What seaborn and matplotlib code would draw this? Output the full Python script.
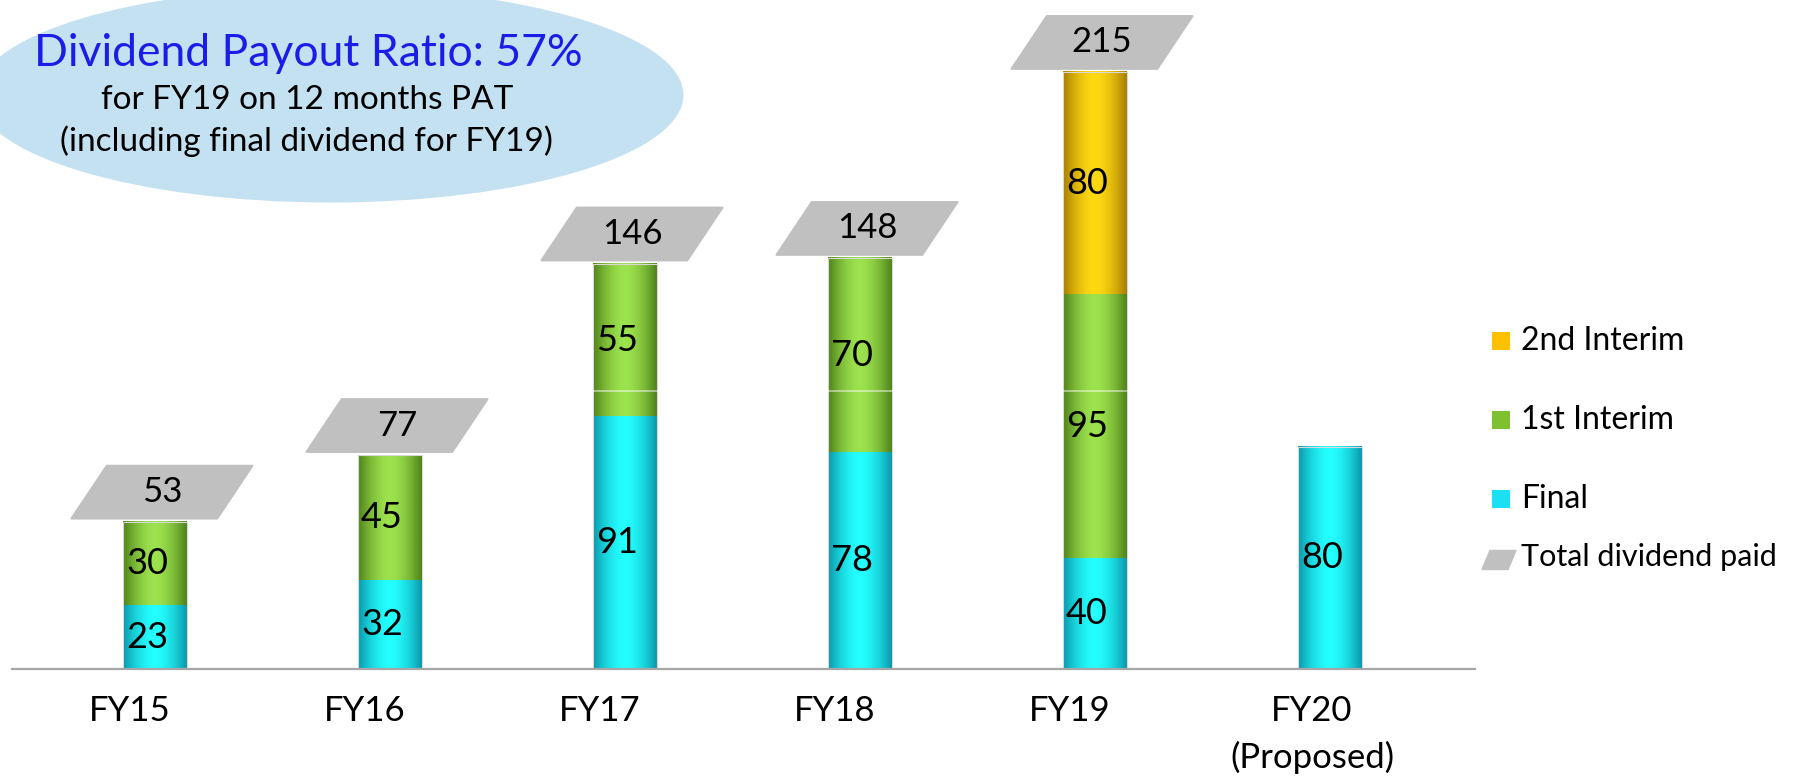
import matplotlib
matplotlib.use("Agg")
import matplotlib.pyplot as plt
from matplotlib.patches import Ellipse, Polygon, Rectangle
from matplotlib.transforms import ScaledTranslation
import seaborn as sns
import pandas as pd
import numpy as np

# data
years = ["FY15", "FY16", "FY17", "FY18", "FY19", "FY20\n(Proposed)"]
final = [23, 32, 91, 78, 40, 80]
first_interim = [30, 45, 55, 70, 95, 0]
second_interim = [0, 0, 0, 0, 80, 0]
show_total = [True, True, True, True, True, False]

legend_labels = ["2nd Interim", "1st Interim", "Final", "Total dividend paid"]

df = pd.DataFrame({"year": years, "final": final,
                   "first": first_interim, "second": second_interim})
df["cum1"] = df["final"]
df["cum2"] = df["final"] + df["first"]
df["cum3"] = df["cum2"] + df["second"]

# (edge colour, centre colour) for the cylinder look
shades = {
    "second": ("#a87e00", "#ffda12"),
    "first": ("#4f8219", "#9de34e"),
    "final": ("#0a98ab", "#24ffff"),
}
legend_colors = ["#ffc000", "#7dc030", "#19e0f5", "#c0c0c0"]

sns.set_theme(style="white")
plt.rcParams["font.family"] = ["Lato", "DejaVu Sans"]

fig = plt.figure(figsize=(18.18, 7.8), dpi=100)
ax = fig.add_axes([12 / 1818, 111 / 780, 1463 / 1818, 669 / 780])
ax.set_facecolor("none")

bw = 0.27
# reverse-stacked: tallest first, then overlay the lower sums
sns.barplot(data=df, x="year", y="cum3", color=shades["second"][1], width=bw,
            linewidth=0, ax=ax)
sns.barplot(data=df, x="year", y="cum2", color=shades["first"][1], width=bw,
            linewidth=0, ax=ax)
sns.barplot(data=df, x="year", y="cum1", color=shades["final"][1], width=bw,
            linewidth=0, ax=ax)

# gradient overlay per segment, using the bars' own geometry
t = np.linspace(-1, 1, 64)
prof = 1 - np.abs(t) ** 1.7
n = len(years)
bars = ax.patches[:n]
segments = [("final", "cum1", 0), ("first", "cum2", "cum1"), ("second", "cum3", "cum2")]
for i, p in enumerate(bars):
    x0, w = p.get_x(), p.get_width()
    for key, top_col, bot_col in segments:
        top = df[top_col][i]
        bot = 0 if bot_col == 0 else df[bot_col][i]
        if top - bot <= 0:
            continue
        lo = np.array(matplotlib.colors.to_rgb(shades[key][0]))
        hi = np.array(matplotlib.colors.to_rgb(shades[key][1]))
        img = lo[None, :] + (hi - lo)[None, :] * prof[:, None]
        ax.imshow(img[None, :, :], extent=(x0, x0 + w, bot, top),
                  aspect="auto", interpolation="bilinear", zorder=2)
        val = top - bot
        ax.text(x0 + 0.012, (top + bot) / 2, f"{val:d}", ha="left", va="center",
                fontsize=26, color="black", zorder=4)
    # thin light rim like the slide
    ax.add_patch(Rectangle((x0, 0), w, df["cum3"][i], facecolor="none",
                           edgecolor="#d8d8d8", linewidth=0.8, zorder=2.5))

# faint white gridline at 100 that shows only across the bars
ax.axhline(100, color="white", alpha=0.6, linewidth=1.1, zorder=2.6)

# grey parallelogram totals
bw_box, skew, box_h, gap = 0.62, 0.15, 19, 1.2
for i, p in enumerate(bars):
    if not show_total[i]:
        continue
    tot = df["cum3"][i]
    cx = p.get_x() + p.get_width() / 2 + 0.03
    yb = tot + gap
    verts = [(cx - bw_box / 2 - skew / 2, yb), (cx + bw_box / 2 - skew / 2, yb),
             (cx + bw_box / 2 + skew / 2, yb + box_h), (cx - bw_box / 2 + skew / 2, yb + box_h)]
    ax.add_patch(Polygon(verts, closed=True, facecolor="#c0c0c0", edgecolor="#c0c0c0",
                         linewidth=1.5, joinstyle="round", zorder=3))
    ax.text(cx, yb + box_h / 2, f"{tot:d}", ha="center", va="center",
            fontsize=25, color="black", zorder=4)

ax.set_xlim(-0.608, 5.617)
ax.set_ylim(0, 241)
ax.set_xlabel("")
ax.set_ylabel("")
ax.set_yticks([])
ax.set_xticks(range(n))
ax.set_xticklabels(years, fontsize=25, color="black", linespacing=1.5)
ax.tick_params(axis="x", length=0, pad=19)
for i, lab in enumerate(ax.get_xticklabels()):
    dx = -25 if i < n - 1 else -18
    lab.set_transform(lab.get_transform() + ScaledTranslation(dx / 100, 0, fig.dpi_scale_trans))
for s in ["top", "left", "right"]:
    ax.spines[s].set_visible(False)
ax.spines["bottom"].set_color("#a6a6a6")
ax.spines["bottom"].set_linewidth(1.6)

# callout ellipse
fig.add_artist(Ellipse((330 / 1818, 1 - 95 / 780), 707 / 1818, 215 / 780,
                       transform=fig.transFigure, facecolor="#c4e1f1",
                       edgecolor="none", zorder=-1))
fig.text(308 / 1818, 1 - 54 / 780, "Dividend Payout Ratio: 57%", ha="center",
         va="center", fontsize=32, color="#1c1ce8")
fig.text(307 / 1818, 1 - 100 / 780, "for FY19 on 12 months PAT", ha="center",
         va="center", fontsize=24, color="black")
fig.text(306 / 1818, 1 - 141 / 780, "(including final dividend for FY19)", ha="center",
         va="center", fontsize=24, color="black")

# legend on the right
rows = [341, 420, 499, 560]
for lab, col, yy in zip(legend_labels, legend_colors, rows):
    yf = 1 - yy / 780
    if lab.startswith("Total"):
        pw, ph, sk = 26 / 1818, 19 / 780, 8 / 1818
        x0 = 1482 / 1818
        fig.add_artist(Polygon([(x0, yf - ph / 2), (x0 + pw, yf - ph / 2),
                                (x0 + pw + sk, yf + ph / 2), (x0 + sk, yf + ph / 2)],
                               closed=True, transform=fig.transFigure,
                               facecolor=col, edgecolor=col, linewidth=1))
        fig.text(1521 / 1818, yf + 3 / 780, lab, ha="left", va="center",
                 fontsize=22, color="black")
    else:
        fig.add_artist(Rectangle((1492 / 1818, yf - 9 / 780), 18 / 1818, 18 / 780,
                                 transform=fig.transFigure, facecolor=col,
                                 edgecolor="none"))
        fig.text(1521 / 1818, yf, lab, ha="left", va="center",
                 fontsize=23, color="black")

fig.savefig("out.png", dpi=100)
